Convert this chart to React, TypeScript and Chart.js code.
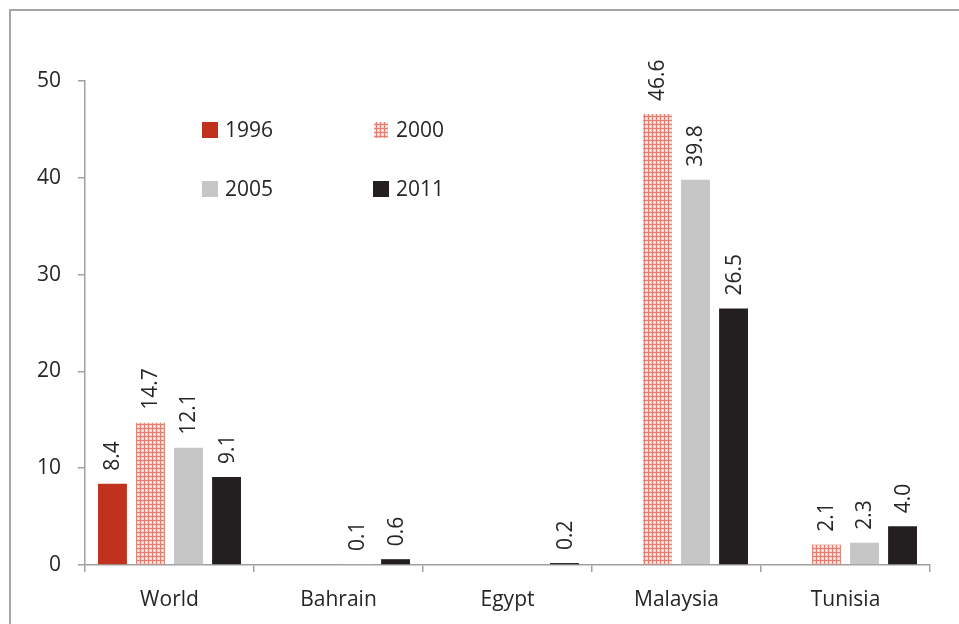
import React, { useEffect, useRef } from "react";
import { Chart, registerables } from "chart.js";

Chart.register(...registerables);

const categories = ["World", "Bahrain", "Egypt", "Malaysia", "Tunisia"];
const seriesNames = ["1996", "2000", "2005", "2011"];
const v1996 = [8.4, null, null, null, null];
const v2000 = [14.7, null, null, 46.6, 2.1];
const v2005 = [12.1, 0.1, null, 39.8, 2.3];
const v2011 = [9.1, 0.6, 0.2, 26.5, 4.0];
const yTicks = [0, 10, 20, 30, 40, 50];

const FONT = "'Open Sans', sans-serif";
const TEXT = "#262626";
const AXIS = "#a0a0a0";

function makePattern(): CanvasPattern | string {
  const c = document.createElement("canvas");
  c.width = 4;
  c.height = 4;
  const g = c.getContext("2d");
  if (!g) return "#e7958a";
  g.fillStyle = "#f5d3cd";
  g.fillRect(0, 0, 4, 4);
  g.fillStyle = "#e27f72";
  g.fillRect(0, 0, 4, 1);
  g.fillRect(0, 0, 1, 4);
  g.fillStyle = "#ffffff";
  g.fillRect(2, 2, 1, 1);
  const p = g.createPattern(c, "repeat");
  return p || "#e7958a";
}

export default function App() {
  const ref = useRef<HTMLCanvasElement>(null);

  useEffect(() => {
    const canvas = ref.current;
    if (!canvas) return;
    const pattern = makePattern();
    const colors: any[] = ["#c0311e", pattern, "#c6c6c6", "#231f20"];
    const values = [v1996, v2000, v2005, v2011];

    const labelPlugin = {
      id: "valueLabels",
      afterDatasetsDraw(chart: any) {
        const ctx = chart.ctx;
        ctx.save();
        ctx.font = `21px ${FONT}`;
        ctx.fillStyle = TEXT;
        ctx.textAlign = "left";
        ctx.textBaseline = "middle";
        chart.data.datasets.forEach((ds: any, di: number) => {
          const meta = chart.getDatasetMeta(di);
          meta.data.forEach((bar: any, i: number) => {
            const v = ds.data[i];
            if (v === null || v === undefined) return;
            ctx.save();
            ctx.translate(bar.x + 1, bar.y - 13);
            ctx.rotate(-Math.PI / 2);
            ctx.fillText(Number(v).toFixed(1), 0, 0);
            ctx.restore();
          });
        });
        ctx.restore();
      },
    };

    const legendPlugin = {
      id: "customLegend",
      afterDraw(chart: any) {
        const ctx = chart.ctx;
        const pos = [
          [202, 130],
          [373, 130],
          [202, 189],
          [373, 189],
        ];
        ctx.save();
        ctx.font = `21px ${FONT}`;
        ctx.textBaseline = "middle";
        ctx.textAlign = "left";
        seriesNames.forEach((name, i) => {
          const [x, y] = pos[i];
          ctx.fillStyle = colors[i];
          if (i === 1) ctx.fillRect(x + 1, y - 8, 14, 16);
          else ctx.fillRect(x, y - 8, 16, 16);
          ctx.fillStyle = TEXT;
          ctx.fillText(name, x + 23, y + 1);
        });
        ctx.restore();
      },
    };

    const chart = new Chart(canvas, {
      type: "bar",
      data: {
        labels: categories,
        datasets: values.map((vals, i) => ({
          label: seriesNames[i],
          data: vals as any,
          backgroundColor: colors[i],
          borderWidth: 0,
          categoryPercentage: 0.9,
          barPercentage: 0.76,
        })),
      },
      options: {
        animation: false,
        responsive: false,
        maintainAspectRatio: false,
        layout: { padding: { left: 0, right: 29, top: 81, bottom: 0 } },
        plugins: {
          legend: { display: false },
          tooltip: { enabled: false },
        },
        scales: {
          x: {
            grid: {
              display: true,
              drawOnChartArea: false,
              drawTicks: true,
              tickLength: 7,
              color: AXIS,
              lineWidth: 1.5,
              offset: true,
            },
            border: { display: true, color: AXIS, width: 1.5 },
            ticks: {
              color: TEXT,
              font: { family: FONT, size: 21 },
              padding: 15,
              maxRotation: 0,
            },
            afterFit(scale: any) {
              scale.height = 59;
            },
          },
          y: {
            min: 0,
            max: 50,
            afterBuildTicks(scale: any) {
              scale.ticks = yTicks.map((v) => ({ value: v }));
            },
            grid: {
              display: true,
              drawOnChartArea: false,
              drawTicks: true,
              tickLength: 7,
              color: AXIS,
              lineWidth: 1.5,
            },
            border: { display: true, color: AXIS, width: 1.5 },
            ticks: {
              color: TEXT,
              font: { family: FONT, size: 21 },
              padding: 17,
            },
            afterFit(scale: any) {
              scale.width = 85;
            },
          },
        },
      },
      plugins: [labelPlugin, legendPlugin],
    });

    return () => chart.destroy();
  }, []);

  return (
    <div
      style={{
        position: "fixed",
        left: 0,
        top: 0,
        width: 959,
        height: 624,
        background: "#ffffff",
        overflow: "hidden",
      }}
    >
      <canvas ref={ref} width={959} height={624} style={{ display: "block", width: 959, height: 624 }} />
      <div style={{ position: "absolute", left: 9, top: 9, width: 950, height: 2, background: "#a6a6a6" }} />
      <div style={{ position: "absolute", left: 9, top: 9, width: 2, height: 615, background: "#a6a6a6" }} />
    </div>
  );
}
